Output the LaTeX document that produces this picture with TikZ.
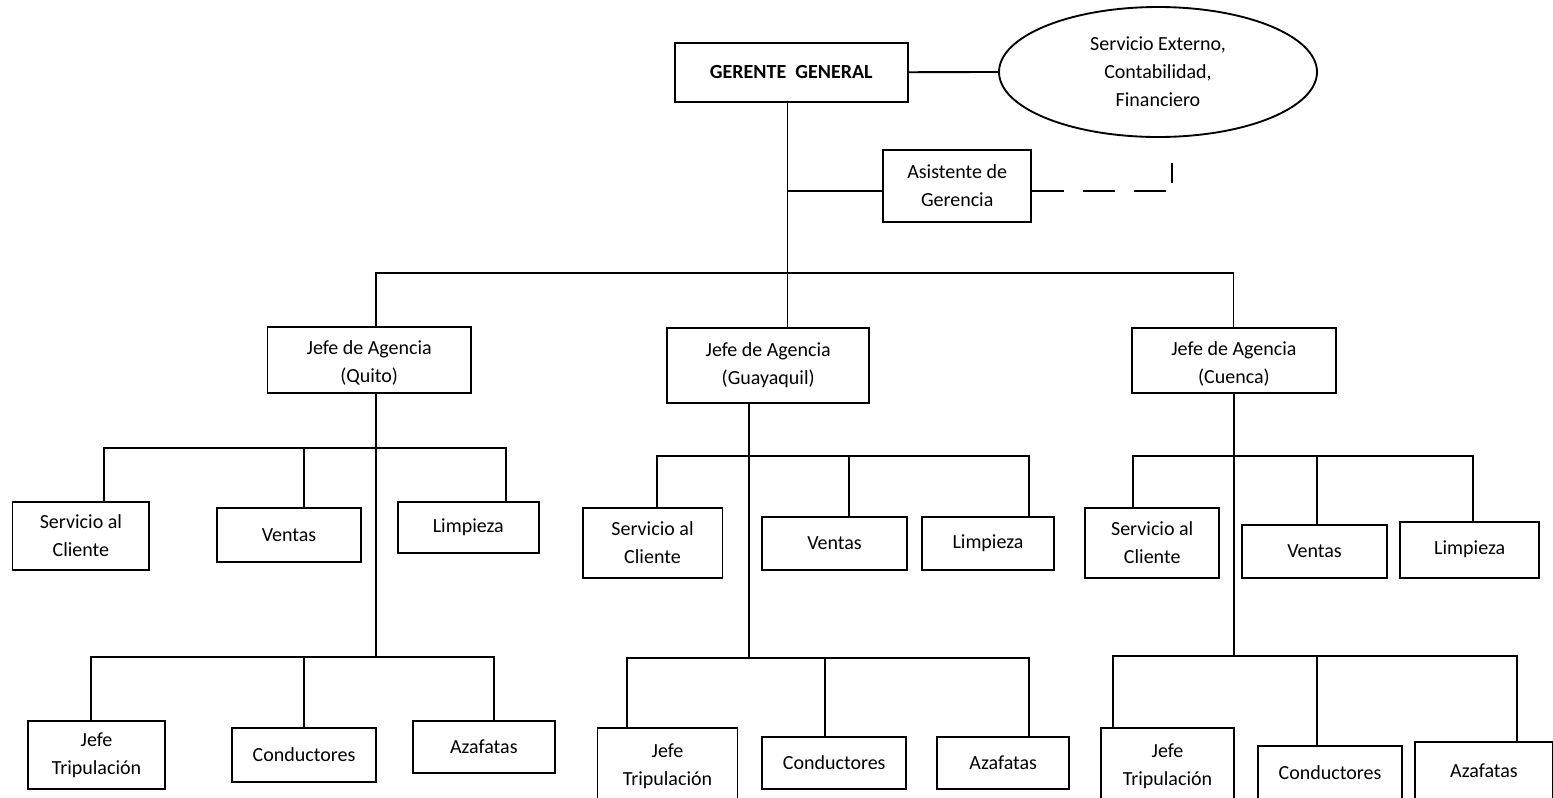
\documentclass[tikz,border=0pt]{standalone}
\usepackage{fontspec}
\setmainfont{Carlito}
\usetikzlibrary{shapes.geometric}
\begin{document}
\begin{tikzpicture}[x=0.75pt,y=-0.75pt,
  every node/.style={font=\fontsize{15}{21}\selectfont},
  box/.style={draw, rectangle, inner sep=0pt, align=center, line width=1.4pt},
  conn/.style={line width=1.4pt},
  ]
\useasboundingbox (0,0) rectangle (1553,797);
\clip (0,0) rectangle (1553,797);
\fill[white] (0,0) rectangle (1553,797);

% top
\node[box, minimum width=174.4pt, minimum height=44.25pt] (gg) at (791.3,72.2) {\textbf{GERENTE\ \ GENERAL}};
\node[draw, ellipse, line width=1.4pt, minimum width=238.5pt, minimum height=97.5pt, inner sep=0pt, align=center] (ell) at (1158,72) {Servicio Externo,\\Contabilidad,\\Financiero};
\node[box, minimum width=111.3pt, minimum height=53.8pt] (asis) at (957.2,185.8) {Asistente de\\Gerencia};

% agencies
\node[box, minimum width=152.6pt, minimum height=49.5pt] (q) at (369.2,359.7) {\rule{0pt}{15pt}Jefe de Agencia\\(Quito)};
\node[box, minimum width=151.8pt, minimum height=56.25pt] (g) at (768.2,365.2) {Jefe de Agencia\\(Guayaquil)};
\node[box, minimum width=153.2pt, minimum height=49.2pt] (c) at (1233.9,360.5) {\rule{0pt}{15pt}Jefe de Agencia\\(Cuenca)};

% Quito children
\node[box, minimum width=102.6pt, minimum height=51.2pt] (qs) at (80.9,535.9) {Servicio al\\Cliente};
\node[box, minimum width=108pt, minimum height=40.3pt] (qv) at (289,534.9) {Ventas};
\node[box, minimum width=105.5pt, minimum height=38.25pt] (ql) at (468.3,527.2) {Limpieza};
\node[box, minimum width=102.75pt, minimum height=51pt] (qj) at (96.5,755) {Jefe\\Tripulación};
\node[box, minimum width=108pt, minimum height=40.3pt] (qc) at (304,754.9) {Conductores};
\node[box, minimum width=106.2pt, minimum height=39.2pt] (qa) at (483.8,747.2) {Azafatas};

% Guayaquil children
\node[box, minimum width=104.9pt, minimum height=52pt] (gs) at (652.5,543) {Servicio al\\Cliente};
\node[box, minimum width=108.2pt, minimum height=40pt] (gv) at (834.5,543.3) {Ventas};
\node[box, minimum width=99pt, minimum height=39.5pt] (gl) at (988,543.7) {Limpieza};
\node[box, minimum width=105pt, minimum height=57.5pt] (gj) at (667.5,766.7) {Jefe\\Tripulación};
\node[box, minimum width=107.8pt, minimum height=39.5pt] (gc) at (834.2,763) {Conductores};
\node[box, minimum width=98.7pt, minimum height=39.5pt] (ga) at (1003.2,763) {Azafatas};

% Cuenca children
\node[box, minimum width=100.7pt, minimum height=52pt] (cs) at (1152.2,543) {Servicio al\\Cliente};
\node[box, minimum width=108.3pt, minimum height=39.5pt] (cv) at (1314.5,551.4) {Ventas};
\node[box, minimum width=104.5pt, minimum height=42pt] (cl) at (1469.7,549.7) {Limpieza};
\node[box, minimum width=100.2pt, minimum height=57.5pt] (cj) at (1167.5,766.7) {Jefe\\Tripulación};
\node[box, minimum width=107.5pt, minimum height=40.5pt] (cc) at (1330,773) {Conductores};
\node[box, minimum width=103.5pt, minimum height=43.7pt] (ca) at (1484,770.9) {Azafatas};

% top connectors
\coordinate (T) at (787.5,273);
\coordinate (TL) at (376,273);
\coordinate (TR) at (1233.5,273);
\coordinate (A) at (787.5,190.7);
\coordinate (D) at (1169,190.7);
\coordinate (V1) at (1172,163);
\coordinate (V2) at (1172,183);
\draw[conn] (gg.south -| T) -- (g.north -| T);
\draw[conn] (gg.east) -- (ell.west);
\draw[conn] (A) -- (asis.west |- A);
\draw[conn] (q.north -| TL) -- (TL) -- (TR) -- (c.north -| TR);
\draw[conn, dash pattern=on 24pt off 14.25pt] (asis.east |- D) -- (D);
\draw[conn] (V1) -- (V2);

% Quito connectors
\coordinate (qB) at (376,656.7);
\coordinate (q1L) at (103.6,447.7);
\coordinate (q1M) at (303.6,447.7);
\coordinate (q1R) at (506.4,447.7);
\coordinate (q2L) at (91,656.7);
\coordinate (q2M) at (303.6,656.7);
\coordinate (q2R) at (494,656.7);
\draw[conn] (q.south -| qB) -- (qB);
\draw[conn] (qs.north -| q1L) -- (q1L) -- (q1R) -- (ql.north -| q1R);
\draw[conn] (q1M) -- (qv.north -| q1M);
\draw[conn] (qj.north -| q2L) -- (q2L) -- (q2R) -- (qa.north -| q2R);
\draw[conn] (q2M) -- (qc.north -| q2M);

% Guayaquil connectors
\coordinate (gB) at (749,658.3);
\coordinate (g1L) at (657.2,455.7);
\coordinate (g1M) at (848.6,455.7);
\coordinate (g1R) at (1028.7,455.7);
\coordinate (g2L) at (627.3,658.3);
\coordinate (g2M) at (824.7,658.3);
\coordinate (g2R) at (1028.7,658.3);
\draw[conn] (g.south -| gB) -- (gB);
\draw[conn] (gs.north -| g1L) -- (g1L) -- (g1R) -- (gl.north -| g1R);
\draw[conn] (g1M) -- (gv.north -| g1M);
\draw[conn] (gj.north -| g2L) -- (g2L) -- (g2R) -- (ga.north -| g2R);
\draw[conn] (g2M) -- (gc.north -| g2M);

% Cuenca connectors
\coordinate (cB) at (1234,656);
\coordinate (c1L) at (1133.3,455.7);
\coordinate (c1M) at (1317.3,455.7);
\coordinate (c1R) at (1473.3,455.7);
\coordinate (c2L) at (1113.3,656);
\coordinate (c2M) at (1317.3,656);
\coordinate (c2R) at (1516.7,656);
\draw[conn] (c.south -| cB) -- (cB);
\draw[conn] (cs.north -| c1L) -- (c1L) -- (c1R) -- (cl.north -| c1R);
\draw[conn] (c1M) -- (cv.north -| c1M);
\draw[conn] (cj.north -| c2L) -- (c2L) -- (c2R) -- (ca.north -| c2R);
\draw[conn] (c2M) -- (cc.north -| c2M);
\end{tikzpicture}
\end{document}
